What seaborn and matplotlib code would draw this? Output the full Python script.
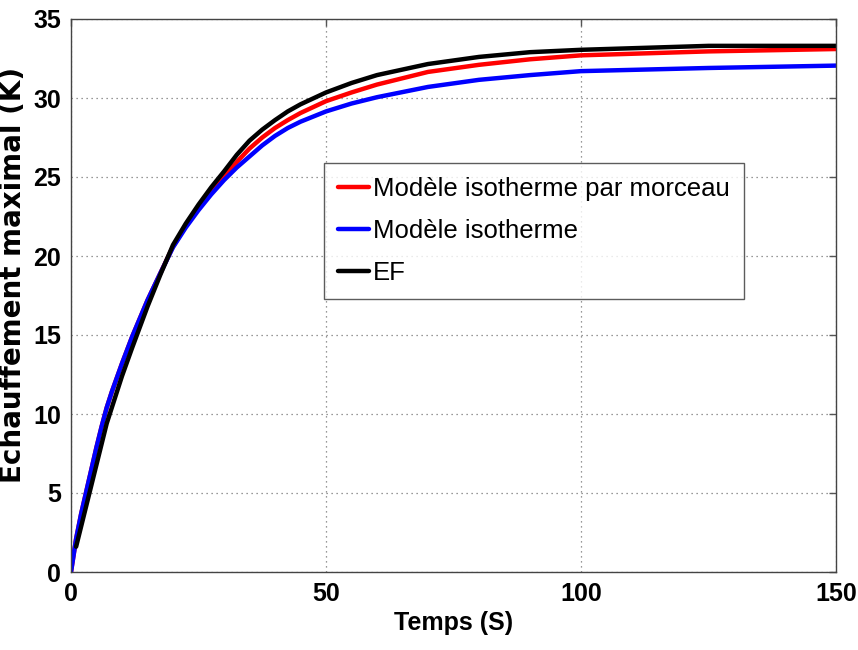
#!/usr/bin/env python
# -*- coding: utf-8 -*-
#
#  plot.py

import numpy as np
import pandas as pd
import matplotlib
matplotlib.use('Agg')
import matplotlib.pyplot as plt
from matplotlib.lines import Line2D
import seaborn as sns

# values
temps = [0, 1, 2, 3, 4, 5, 6, 7, 8, 10, 12, 15, 17.5, 20, 22.5, 25, 27.5, 30, 32.5, 35,
         37.5, 40, 42.5, 45, 50, 55, 60, 70, 80, 90, 100, 125, 150]
iso_morceau = [0, 2.1, 3.7, 5.1, 6.5, 7.9, 9.2, 10.4, 11.4, 13.2, 14.9, 17.2, 18.9, 20.6,
               21.9, 23.0, 24.05, 25.0, 25.95, 26.8, 27.5, 28.1, 28.6, 29.05, 29.8, 30.35,
               30.85, 31.65, 32.1, 32.45, 32.7, 32.95, 33.1]
iso = [0, 2.1, 3.7, 5.1, 6.5, 7.9, 9.2, 10.4, 11.4, 13.2, 14.9, 17.2, 18.9, 20.55,
       21.8, 22.9, 23.9, 24.8, 25.6, 26.3, 27.0, 27.6, 28.1, 28.5, 29.15, 29.65,
       30.05, 30.7, 31.15, 31.45, 31.7, 31.9, 32.05]
ef = [np.nan, 1.6, 2.9, 4.2, 5.5, 6.8, 8.1, 9.4, 10.4, 12.4, 14.2, 16.8, 18.8, 20.7,
      22.05, 23.25, 24.35, 25.35, 26.4, 27.3, 28.0, 28.6, 29.15, 29.6, 30.35, 30.95,
      31.45, 32.15, 32.6, 32.9, 33.05, 33.3, 33.3]

labels = ['Modèle isotherme par morceau', 'Modèle isotherme', 'EF']
colors = ['#ff0000', '#0000ff', '#000000']
x_ticks = [0, 50, 100, 150]
y_ticks = [0, 5, 10, 15, 20, 25, 30, 35]

sns.set_theme(style='white')
plt.rcParams['font.family'] = ['Liberation Sans', 'DejaVu Sans']
plt.rcParams['text.color'] = 'black'
plt.rcParams['axes.labelcolor'] = 'black'
plt.rcParams['xtick.color'] = 'black'
plt.rcParams['ytick.color'] = 'black'

frames = []
for lab, vals in zip(labels, [iso_morceau, iso, ef]):
    frames.append(pd.DataFrame({'Temps': temps, 'Echauffement': vals, 'modele': lab}))
df = pd.concat(frames, ignore_index=True).dropna()

fig = plt.figure(figsize=(8.58, 6.5), dpi=100)
ax = fig.add_axes([71 / 858, 1 - 572 / 650, 765 / 858, 553 / 650])

sns.lineplot(data=df, x='Temps', y='Echauffement', hue='modele', hue_order=labels,
             palette=colors, estimator=None, sort=False, linewidth=3.2, legend=False, ax=ax)

ax.set_xlim(0, 150)
ax.set_ylim(0, 35)
ax.set_xticks(x_ticks)
ax.set_yticks(y_ticks)
ax.grid(True, linestyle=(0, (1, 3)), color='#777777', linewidth=0.9)
for s in ax.spines.values():
    s.set_color('#444444')
    s.set_linewidth(1.0)
ax.tick_params(direction='in', length=5, width=1.0, color='#555555', labelcolor='black',
               top=True, right=True, pad=7, labelsize=18)
for t in ax.get_xticklabels() + ax.get_yticklabels():
    t.set_fontweight('bold')

ax.set_xlabel('Temps (S)', fontsize=18, fontweight='bold', labelpad=4)
ax.set_ylabel('Echauffement maximal (K)', fontsize=20, fontweight='bold',
              family=['DejaVu Sans'])
ax.yaxis.set_label_coords(-0.057, 0.537)

handles = [Line2D([], [], color=c, linewidth=3.2) for c in colors]
leg = ax.legend(handles, labels, loc='upper left', bbox_to_anchor=(0.331, 0.74),
                borderaxespad=0, frameon=True, fancybox=False, handlelength=1.2,
                handletextpad=0.15, labelspacing=0.7, borderpad=0.55,
                prop={'family': 'Liberation Sans', 'size': 18.5})
leg.get_frame().set_edgecolor('#333333')
leg.get_frame().set_linewidth(1.0)

fig.savefig('out.png', dpi=100)
